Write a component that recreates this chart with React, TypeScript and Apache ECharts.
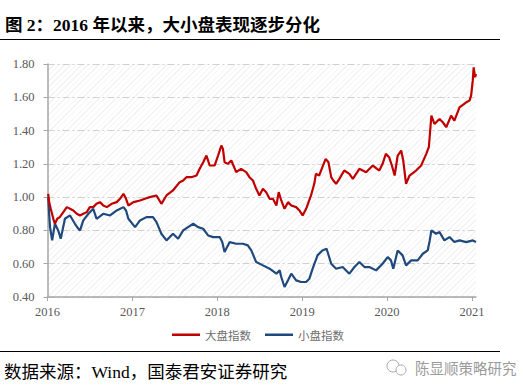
import React, { useEffect, useRef } from "react";
import * as echarts from "echarts";

const seriesNames = ["大盘指数", "小盘指数"];
const yearTicks = ["2016-01-01", "2017-01-01", "2018-01-01", "2019-01-01", "2020-01-01", "2021-01-01"];

const bigCapDates = [
  "2016-01-04", "2016-01-08", "2016-01-15", "2016-01-28", "2016-02-02", "2016-02-12", "2016-02-23", "2016-03-09",
  "2016-03-24", "2016-04-07", "2016-04-21", "2016-05-06", "2016-05-20", "2016-06-03", "2016-06-18", "2016-07-01",
  "2016-07-16", "2016-07-30", "2016-08-14", "2016-08-28", "2016-09-12", "2016-10-03", "2016-10-25", "2016-11-08",
  "2016-11-23", "2016-12-04", "2016-12-14", "2017-01-05", "2017-02-02", "2017-02-23", "2017-03-16", "2017-04-14",
  "2017-05-05", "2017-05-27", "2017-06-24", "2017-07-23", "2017-08-07", "2017-08-21", "2017-09-11", "2017-10-03",
  "2017-10-17", "2017-11-01", "2017-11-15", "2017-11-29", "2017-12-20", "2018-01-04", "2018-01-18", "2018-01-25",
  "2018-02-01", "2018-02-15", "2018-03-02", "2018-03-23", "2018-04-13", "2018-05-05", "2018-05-19", "2018-06-03",
  "2018-06-17", "2018-07-01", "2018-07-16", "2018-07-30", "2018-08-14", "2018-08-28", "2018-09-12", "2018-09-22",
  "2018-10-03", "2018-10-17", "2018-11-01", "2018-11-15", "2018-12-06", "2018-12-20", "2019-01-03", "2019-01-18",
  "2019-02-08", "2019-02-22", "2019-03-01", "2019-03-15", "2019-03-29", "2019-04-12", "2019-04-24", "2019-05-06",
  "2019-05-15", "2019-05-27", "2019-06-10", "2019-07-01", "2019-07-23", "2019-08-07", "2019-08-21", "2019-09-04",
  "2019-10-03", "2019-11-01", "2019-11-29", "2019-12-13", "2019-12-27", "2020-01-10", "2020-01-22", "2020-02-03",
  "2020-02-16", "2020-03-02", "2020-03-11", "2020-03-23", "2020-04-07", "2020-05-05", "2020-05-27", "2020-06-18",
  "2020-06-29", "2020-07-06", "2020-07-10", "2020-07-23", "2020-08-14", "2020-08-28", "2020-09-12", "2020-10-03",
  "2020-10-17", "2020-11-08", "2020-12-07", "2020-12-21", "2020-12-28", "2021-01-04", "2021-01-08", "2021-01-14",
  "2021-01-18",
];
const bigCapValues = [
  1.02, 0.97, 0.93, 0.86, 0.84, 0.87, 0.88, 0.91,
  0.94, 0.93, 0.92, 0.90, 0.89, 0.90, 0.91, 0.94,
  0.94, 0.96, 0.97, 0.95, 0.94, 0.96, 0.97, 0.99,
  1.02, 0.99, 0.95, 0.97, 0.98, 0.99, 1.00, 1.01,
  0.96, 1.01, 1.04, 1.09, 1.10, 1.12, 1.12, 1.13,
  1.17, 1.21, 1.25, 1.19, 1.19, 1.25, 1.31, 1.29,
  1.21, 1.20, 1.22, 1.15, 1.17, 1.15, 1.12, 1.10,
  1.05, 1.01, 1.05, 1.03, 0.99, 0.99, 0.95, 1.03,
  0.98, 0.93, 0.97, 0.95, 0.94, 0.92, 0.89, 0.93,
  1.01, 1.08, 1.14, 1.13, 1.18, 1.23, 1.21, 1.12,
  1.10, 1.08, 1.11, 1.16, 1.14, 1.11, 1.14, 1.17,
  1.15, 1.19, 1.16, 1.20, 1.26, 1.24, 1.19, 1.13,
  1.25, 1.28, 1.22, 1.08, 1.13, 1.16, 1.19, 1.26,
  1.30, 1.42, 1.49, 1.44, 1.47, 1.45, 1.42, 1.49,
  1.46, 1.54, 1.57, 1.58, 1.61, 1.70, 1.78, 1.72,
  1.74,
];

const smallCapDates = [
  "2016-01-04", "2016-01-08", "2016-01-12", "2016-01-21", "2016-02-02", "2016-02-16", "2016-02-27", "2016-03-16",
  "2016-04-07", "2016-04-28", "2016-05-13", "2016-05-20", "2016-06-03", "2016-06-25", "2016-07-16", "2016-07-30",
  "2016-08-28", "2016-09-26", "2016-10-25", "2016-11-23", "2016-12-04", "2016-12-14", "2017-01-12", "2017-02-02",
  "2017-03-02", "2017-03-30", "2017-04-14", "2017-05-05", "2017-05-27", "2017-06-24", "2017-07-16", "2017-08-07",
  "2017-08-28", "2017-09-19", "2017-10-10", "2017-11-01", "2017-11-22", "2017-12-14", "2018-01-11", "2018-01-22",
  "2018-02-01", "2018-02-23", "2018-03-23", "2018-04-21", "2018-05-12", "2018-05-27", "2018-06-17", "2018-07-16",
  "2018-08-14", "2018-09-12", "2018-09-26", "2018-10-03", "2018-10-17", "2018-11-01", "2018-11-15", "2018-12-06",
  "2018-12-27", "2019-01-18", "2019-02-01", "2019-02-15", "2019-03-08", "2019-03-29", "2019-04-16", "2019-05-06",
  "2019-05-27", "2019-06-24", "2019-07-23", "2019-08-14", "2019-09-04", "2019-09-26", "2019-10-17", "2019-11-15",
  "2019-12-13", "2020-01-04", "2020-01-18", "2020-01-28", "2020-02-16", "2020-03-08", "2020-03-23", "2020-04-14",
  "2020-05-12", "2020-06-03", "2020-06-24", "2020-07-03", "2020-07-10", "2020-07-30", "2020-08-14", "2020-09-04",
  "2020-09-26", "2020-10-17", "2020-11-08", "2020-12-07", "2021-01-04", "2021-01-18",
];
const smallCapValues = [
  1.00, 0.90, 0.82, 0.74, 0.84, 0.80, 0.75, 0.87,
  0.89, 0.84, 0.81, 0.80, 0.86, 0.90, 0.93, 0.87,
  0.90, 0.89, 0.92, 0.94, 0.92, 0.87, 0.82, 0.86,
  0.88, 0.88, 0.85, 0.78, 0.74, 0.78, 0.75, 0.80,
  0.82, 0.84, 0.82, 0.81, 0.77, 0.76, 0.76, 0.73,
  0.67, 0.73, 0.72, 0.72, 0.71, 0.68, 0.61, 0.59,
  0.57, 0.54, 0.56, 0.52, 0.46, 0.50, 0.54, 0.50,
  0.49, 0.49, 0.51, 0.57, 0.65, 0.68, 0.69, 0.60,
  0.57, 0.58, 0.54, 0.58, 0.61, 0.58, 0.58, 0.56,
  0.60, 0.64, 0.62, 0.57, 0.68, 0.65, 0.59, 0.62,
  0.62, 0.66, 0.68, 0.74, 0.80, 0.78, 0.79, 0.74,
  0.76, 0.73, 0.74, 0.73, 0.74, 0.73,
];

const X_MIN = "2016-01-01";
const X_MAX = "2021-01-18";

const ts = (s: string) => {
  const [y, m, d] = s.split("-").map(Number);
  return new Date(y, m - 1, d).getTime();
};

const GRID = { left: 47.5, right: 47, top: 64, bottom: 93 };
const W = 523;
const H = 390;

export default function App() {
  const ref = useRef<HTMLDivElement>(null);

  useEffect(() => {
    if (!ref.current) return;
    const chart = echarts.init(ref.current, undefined, { renderer: "svg" });
    const serif = "'Liberation Serif', 'Times New Roman', serif";
    const cjk = "'Liberation Serif', 'Noto Sans CJK SC', sans-serif";
    const tickVals = yearTicks.map(ts);
    chart.setOption({
      animation: false,
      grid: { ...GRID, containLabel: false },
      legend: {
        left: 167,
        top: 324,
        icon: "rect",
        itemWidth: 28,
        itemHeight: 2.5,
        itemGap: 14,
        textStyle: { color: "#6f6f6f", fontSize: 11.5, fontFamily: "'Noto Sans CJK SC', sans-serif" },
        data: seriesNames,
      },
      xAxis: {
        type: "value",
        min: ts(X_MIN),
        max: ts(X_MAX),
        axisLine: { show: true, lineStyle: { color: "#a6a6a6", width: 1.5 } },
        axisTick: { show: true, customValues: tickVals, length: 4, lineStyle: { color: "#a6a6a6" } },
        axisLabel: {
          customValues: tickVals,
          formatter: (v: number) => String(new Date(v).getFullYear()),
          color: "#595959",
          fontSize: 12.5,
          fontFamily: serif,
          margin: 8,
        },
        splitLine: { show: false },
      },
      yAxis: {
        type: "value",
        min: 0.4,
        max: 1.8,
        interval: 0.2,
        axisLine: { show: true, lineStyle: { color: "#a6a6a6", width: 1.5 } },
        axisTick: { show: true, length: 4, lineStyle: { color: "#a6a6a6" } },
        axisLabel: {
          formatter: (v: number) => v.toFixed(2),
          color: "#595959",
          fontSize: 12.5,
          fontFamily: serif,
          margin: 13,
        },
        splitLine: { show: true, lineStyle: { color: "#d0d0d0", width: 1, type: [7, 3, 2, 3] } },
      },
      series: [
        {
          name: seriesNames[0],
          type: "line",
          showSymbol: false,
          data: bigCapDates.map((d, i) => [ts(d), bigCapValues[i]]),
          lineStyle: { color: "#c00000", width: 2.2 },
          itemStyle: { color: "#c00000" },
          z: 3,
        },
        {
          name: seriesNames[1],
          type: "line",
          showSymbol: false,
          data: smallCapDates.map((d, i) => [ts(d), smallCapValues[i]]),
          lineStyle: { color: "#1f497d", width: 2.2 },
          itemStyle: { color: "#1f497d" },
          z: 2,
        },
      ],
      graphic: [
        {
          type: "text",
          left: 5,
          top: 16.5,
          style: {
            text: "图 2：2016 年以来，大小盘表现逐步分化",
            fontSize: 17.5,
            fontWeight: "bold",
            fontFamily: cjk,
            fill: "#000",
          },
        },
        { type: "line", shape: { x1: 0, y1: 39.5, x2: 500, y2: 39.5 }, style: { stroke: "#000", lineWidth: 1 } },
        { type: "line", shape: { x1: 0, y1: 351.5, x2: 500, y2: 351.5 }, style: { stroke: "#000", lineWidth: 1 } },
        {
          type: "text",
          left: 4,
          top: 363,
          style: {
            text: "数据来源：Wind，国泰君安证券研究",
            fontSize: 17.5,
            fontFamily: cjk,
            fill: "#000",
          },
        },
        { type: "circle", shape: { cx: 393, cy: 366, r: 6 }, style: { fill: "#fff", stroke: "#a8a8a8", lineWidth: 1 } },
        { type: "circle", shape: { cx: 401, cy: 370, r: 5 }, style: { fill: "#fff", stroke: "#a8a8a8", lineWidth: 1 } },
        {
          type: "text",
          left: 415,
          top: 360,
          style: {
            text: "陈显顺策略研究",
            fontSize: 14.5,
            fontFamily: "'Noto Sans CJK SC', sans-serif",
            fill: "#9a9a9a",
          },
        },
      ],
    });
    return () => chart.dispose();
  }, []);

  return (
    <div style={{ position: "absolute", left: 0, top: 0, width: W, height: H, background: "#fff" }}>
      <div
        style={{
          position: "absolute",
          left: GRID.left,
          top: GRID.top,
          width: W - GRID.left - GRID.right,
          height: H - GRID.top - GRID.bottom,
          background: "repeating-linear-gradient(135deg, #f3f3f3 0px, #f3f3f3 1px, transparent 1px, transparent 4px)",
        }}
      />
      <div ref={ref} style={{ position: "absolute", left: 0, top: 0, width: W, height: H }} />
    </div>
  );
}
